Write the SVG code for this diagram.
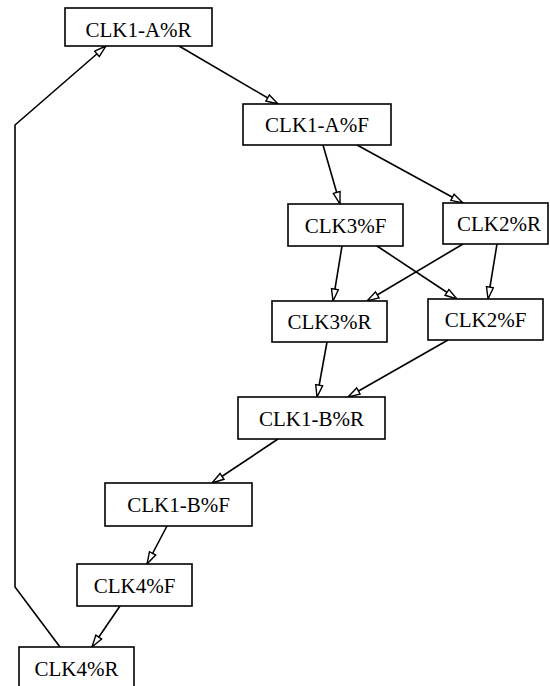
<svg xmlns="http://www.w3.org/2000/svg" width="550" height="686" viewBox="0 0 550 686">
<style>
.box{fill:#fff;stroke:#000;stroke-width:1.6}
.lbl{font-family:"Liberation Serif","Times New Roman",serif;font-size:21px;fill:#000;text-anchor:middle}
.edge{fill:none;stroke:#000;stroke-width:1.6;marker-end:url(#arr)}
</style>
<defs>
<marker id="arr" markerUnits="userSpaceOnUse" markerWidth="14" markerHeight="10" refX="13" refY="4.5" orient="auto">
<path d="M1,1 L13,4.5 L1,8 Z" fill="#fff" stroke="#000" stroke-width="1.4"/>
</marker>
</defs>
<rect width="550" height="686" fill="#fff"/>
<g id="edges">
<path class="edge" d="M179,46 L278,104"/>
<path class="edge" d="M60,647 L15,587 L15,125 L106,46"/>
<path class="edge" d="M323,145 L340,204"/>
<path class="edge" d="M357,145 L463,203"/>
<path class="edge" d="M342,246 L333,301"/>
<path class="edge" d="M377,246 L457,299"/>
<path class="edge" d="M463,244 L367,301"/>
<path class="edge" d="M497,244 L488,299"/>
<path class="edge" d="M327,342 L317,397"/>
<path class="edge" d="M448,340 L348,397"/>
<path class="edge" d="M278,439 L212,483"/>
<path class="edge" d="M167,526 L147,564"/>
<path class="edge" d="M120,606 L92,647"/>
</g>
<g id="n1"><rect class="box" x="65" y="8" width="147" height="38"/><text class="lbl" x="138.5" y="37">CLK1-A%R</text></g>
<g id="n2"><rect class="box" x="243" y="104" width="148" height="41"/><text class="lbl" x="317" y="132">CLK1-A%F</text></g>
<g id="n3"><rect class="box" x="288" y="204" width="115" height="42"/><text class="lbl" x="345.5" y="233">CLK3%F</text></g>
<g id="n4"><rect class="box" x="443" y="203" width="105" height="41"/><text class="lbl" x="499" y="231">CLK2%R</text></g>
<g id="n5"><rect class="box" x="272" y="301" width="115" height="41"/><text class="lbl" x="329.5" y="329">CLK3%R</text></g>
<g id="n6"><rect class="box" x="428" y="299" width="115" height="41"/><text class="lbl" x="485.5" y="327">CLK2%F</text></g>
<g id="n7"><rect class="box" x="238" y="397" width="147" height="42"/><text class="lbl" x="311.5" y="426">CLK1-B%R</text></g>
<g id="n8"><rect class="box" x="105" y="483" width="147" height="43"/><text class="lbl" x="178.5" y="512">CLK1-B%F</text></g>
<g id="n9"><rect class="box" x="77" y="564" width="115" height="42"/><text class="lbl" x="134.5" y="593">CLK4%F</text></g>
<g id="n10"><rect class="box" x="19" y="647" width="115" height="42"/><text class="lbl" x="76.5" y="676">CLK4%R</text></g>
</svg>
